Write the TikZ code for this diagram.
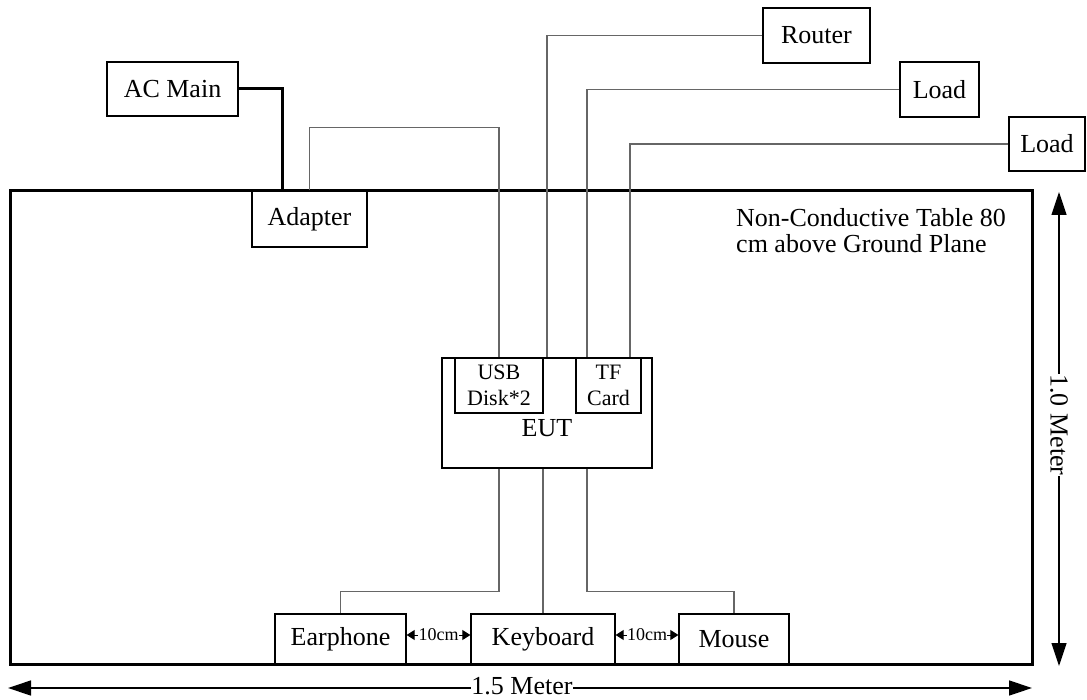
\documentclass[tikz,border=0pt]{standalone}
\usepackage{fontspec}
\setmainfont{Liberation Serif}
\usetikzlibrary{arrows.meta,calc}
\begin{document}
\begin{tikzpicture}[x=1pt,y=-1pt,
  box/.style={draw=black,line width=1.3pt,fill=white,inner sep=0pt,font=\fontsize{26}{26}\selectfont},
  wire/.style={draw=black!60,line width=1.1pt},
  power/.style={draw=black,line width=3pt},
  table/.style={draw=black,line width=3pt},
  gap/.style={line width=1pt,{Triangle[length=8pt,width=10pt]}-{Triangle[length=8pt,width=10pt]}},
  dim/.style={line width=1.3pt,{Triangle[length=23pt,width=15pt]}-{Triangle[length=23pt,width=15pt]}},
  lbl/.style={font=\fontsize{26}{26}\selectfont,inner sep=1pt}]
\useasboundingbox (0,0) rectangle (1087,700);
% table
\draw[table] (10,191) rectangle (1032,664);
% boxes
\node[box,minimum width=131pt,minimum height=54pt] (acmain) at (172.5,89) {AC Main};
\node[box,minimum width=115pt,minimum height=56pt] (adapter) at (309.5,219) {Adapter};
\node[box,minimum width=107pt,minimum height=55pt] (router) at (816.5,35.5) {Router};
\node[box,minimum width=79pt,minimum height=55pt] (load1) at (939.5,89.5) {Load};
\node[box,minimum width=76pt,minimum height=54pt] (load2) at (1047,144) {Load};
\node[box,minimum width=210pt,minimum height=110pt] (eut) at (547,413) {};
\node[lbl] (euttext) at (547,428) {EUT};
\node[box,minimum width=88pt,minimum height=55pt,align=center,font=\fontsize{22}{26}\selectfont] (usb) at (499,385.5) {USB\\Disk*2};
\node[box,minimum width=65pt,minimum height=55pt,align=center,font=\fontsize{22}{26}\selectfont] (tf) at (608.5,385.5) {TF\\Card};
\node[box,minimum width=131pt,minimum height=50pt] (earphone) at (340.5,639) {Earphone};
\node[box,minimum width=144pt,minimum height=50pt] (keyboard) at (543,639) {Keyboard};
\node[box,minimum width=110pt,minimum height=50pt] (mouse) at (734,639) {Mouse};
\node[lbl,anchor=west,align=left] (tablelabel) at (735,231) {Non-Conductive Table 80\\cm above Ground Plane};
% redraw table edge segments under boxes
\draw[table] (10,191) -- (1032,191);
\draw[table] (10,664) -- (1032,664);
% helper coordinates
\coordinate (tfl) at ([xshift=-21.5pt]tf.north);
\coordinate (tfr) at ([xshift=21.5pt]tf.north);
% connectors
\draw[power] (acmain.east) -| (adapter.north -| 282,0);
\draw[wire] (adapter.north) -- ++(0,-63) -| (usb.north);
\draw[wire] (router.west) -| (eut.north);
\draw[wire] (load1.west) -| (tfl);
\draw[wire] (load2.west) -| (tfr);
\draw[wire] (eut.south -| usb.south) -- ++(0,123) -| (earphone.north);
\draw[wire] (keyboard.north) -- (keyboard.north |- eut.south);
\draw[wire] (eut.south -| tfl) -- ++(0,123) -| (mouse.north);
% 10cm gaps
\draw[gap] ([yshift=4pt]earphone.east) -- ([yshift=4pt]keyboard.west)
  node[midway,fill=white,inner sep=0.3pt,font=\fontsize{18}{18}\selectfont] (gap1) {10cm};
\draw[gap] ([yshift=4pt]keyboard.east) -- ([yshift=4pt]mouse.west)
  node[midway,fill=white,inner sep=0.3pt,font=\fontsize{18}{18}\selectfont] (gap2) {10cm};
% dimensions
\coordinate (hl) at (8,688);
\coordinate (hr) at (1032,688);
\coordinate (vt) at (1059,192);
\coordinate (vb) at (1059,666);
\draw[dim] (hl) -- (hr);
\node[lbl,fill=white,inner sep=0pt] (hlabel) at (522,686) {1.5 Meter};
\draw[dim] (vt) -- (vb);
\node[lbl,fill=white,inner sep=0pt,rotate=-90] (vlabel) at (1059,425) {1.0 Meter};
\end{tikzpicture}
\end{document}
